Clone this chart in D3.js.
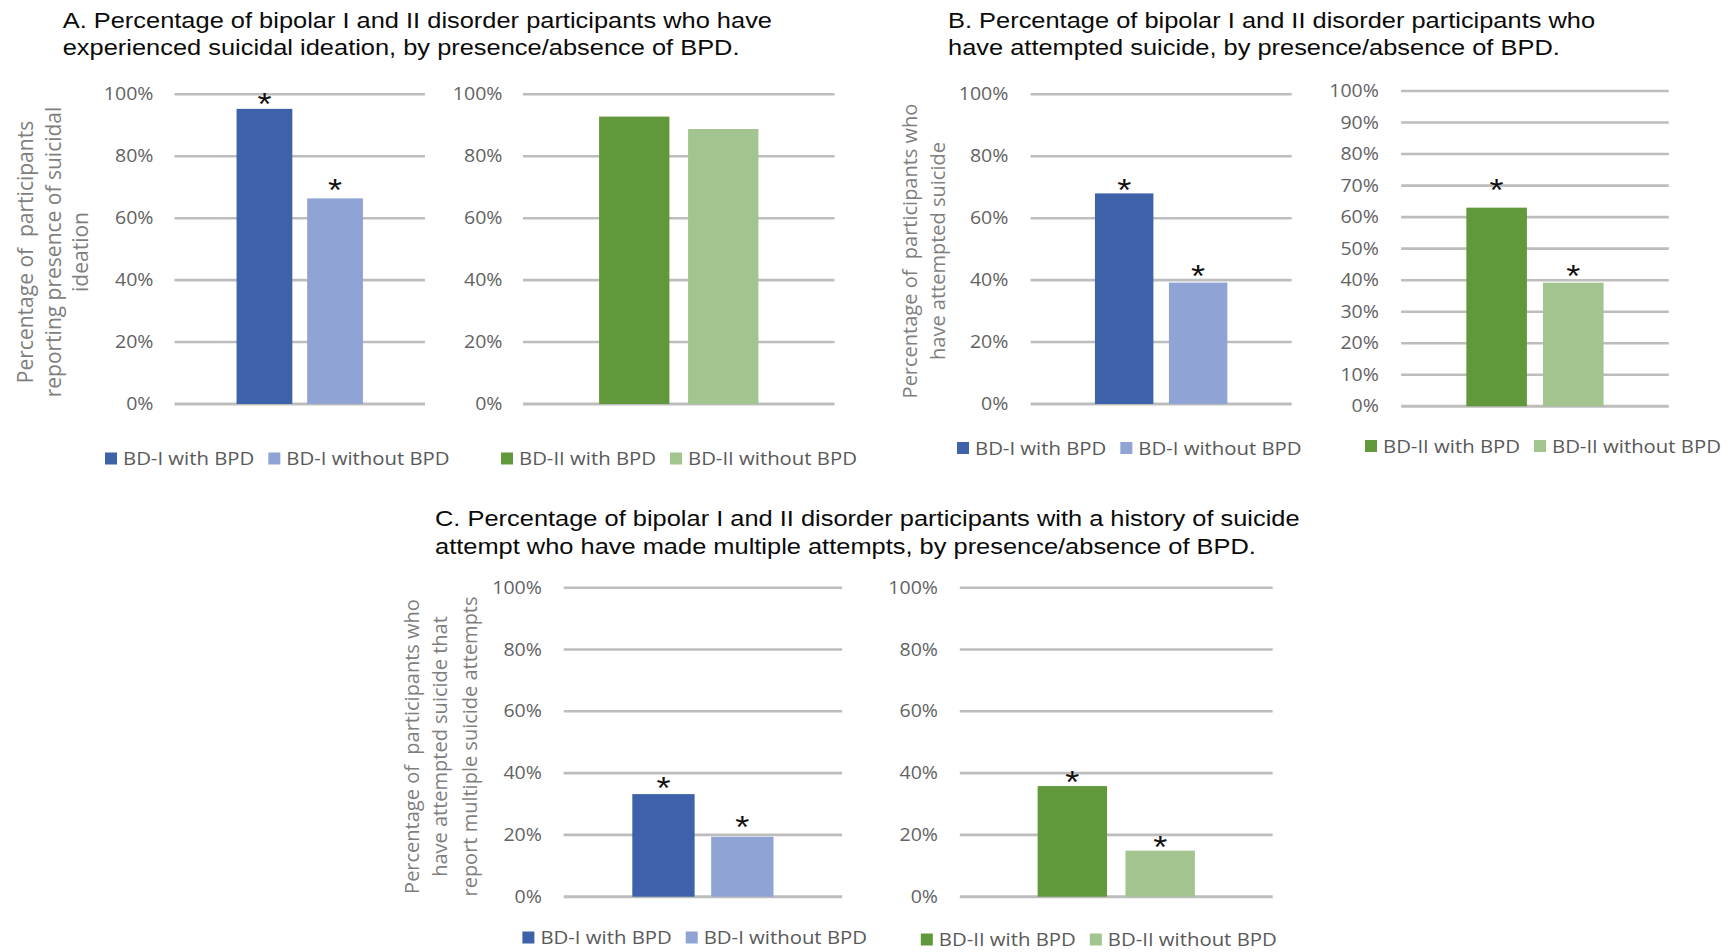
<!DOCTYPE html>
<html>
<head>
<meta charset="utf-8">
<script src="https://cdn.jsdelivr.net/npm/d3@7"></script>
<style>
  body { margin: 0; background: #ffffff; }
  svg { display: block; }
</style>
</head>
<body>
<script>
// ---- Data -------------------------------------------------------------
const seriesBD1 = ["BD-I with BPD", "BD-I without BPD"];
const seriesBD2 = ["BD-II with BPD", "BD-II without BPD"];

// A. suicidal ideation (%)
const ideationBD1 = [95.3, 66.4];
const ideationBD2 = [92.8, 88.8];
// B. attempted suicide (%)
const attemptBD1 = [68.0, 39.2];
const attemptBD2 = [63.0, 39.2];
// C. multiple attempts among attempters (%)
const multipleBD1 = [33.2, 19.4];
const multipleBD2 = [35.8, 14.9];

// significance markers per bar
const starsIdeationBD1 = [true, true];
const starsIdeationBD2 = [false, false];
const starsAttemptBD1 = [true, true];
const starsAttemptBD2 = [true, true];
const starsMultipleBD1 = [true, true];
const starsMultipleBD2 = [true, true];

const ticksBy20 = [0, 20, 40, 60, 80, 100];
const ticksBy10 = [0, 10, 20, 30, 40, 50, 60, 70, 80, 90, 100];

const titleA = ["A. Percentage of bipolar I and II disorder participants who have",
                "experienced suicidal ideation, by presence/absence of BPD."];
const titleB = ["B. Percentage of bipolar I and II disorder participants who",
                "have attempted suicide, by presence/absence of BPD."];
const titleC = ["C. Percentage of bipolar I and II disorder participants with a history of suicide",
                "attempt who have made multiple attempts, by presence/absence of BPD."];

const yTitleA = ["Percentage of  participants", "reporting presence of suicidal", "ideation"];
const yTitleB = ["Percentage of  participants who", "have attempted suicide"];
const yTitleC = ["Percentage of  participants who", "have attempted suicide that", "report multiple suicide attempts"];

// ---- Styling ----------------------------------------------------------
const colorsBD1 = ["#3D62AA", "#8FA3D4"];
const colorsBD2 = ["#62983C", "#A2C48E"];
const SX = 1.13;               // horizontal text stretch
const TICK_FONT = "'Open Sans', 'Noto Sans', sans-serif";
const TITLE_FONT = "'Liberation Sans', Arial, sans-serif";

const W = 1735, H = 952;
const svg = d3.select("body").append("svg")
  .attr("width", W).attr("height", H)
  .attr("viewBox", `0 0 ${W} ${H}`);

function stretchedText(parent, x, y, str, style) {
  const t = parent.append("text")
    .attr("transform", `translate(${x},${y}) scale(${SX},1)`)
    .attr("text-anchor", style.anchor || "start")
    .attr("font-family", style.family)
    .attr("font-size", style.size)
    .attr("fill", style.fill)
    .style("white-space", "pre")
    .text(str);
  return t;
}

function drawTitle(lines, x, y0, lineGap) {
  lines.forEach((ln, i) => {
    stretchedText(svg, x, y0 + i * lineGap, ln,
      { family: TITLE_FONT, size: 22.5, fill: "#0a0a0a" });
  });
}

function drawYTitle(lines, xs, cy, size) {
  lines.forEach((ln, i) => {
    svg.append("text")
      .attr("transform", `translate(${xs[i]},${cy}) rotate(-90)`)
      .attr("text-anchor", "middle")
      .attr("font-family", TICK_FONT)
      .attr("font-size", size)
      .attr("fill", "#7f7f7f")
      .style("white-space", "pre")
      .text(ln);
  });
}

function drawLegend(series, colors, x0, cy) {
  const g = svg.append("g");
  let x = x0;
  series.forEach((s, i) => {
    g.append("rect")
      .attr("x", x).attr("y", cy - 6)
      .attr("width", 12).attr("height", 12)
      .attr("fill", colors[i]);
    const t = stretchedText(g, x + 18, cy + 6.5, s,
      { family: TICK_FONT, size: 18, fill: "#595959" });
    x += 18 + t.node().getComputedTextLength() * SX + 14;
  });
}

function drawPanel(cfg) {
  const g = svg.append("g");
  const y = d3.scaleLinear().domain([0, 100]).range([cfg.yBottom, cfg.yTop]);
  const x = d3.scaleBand().domain(cfg.series)
    .range([cfg.x0, cfg.x1])
    .paddingInner(0.21).paddingOuter(cfg.outer);

  // horizontal gridlines
  g.append("g").selectAll("line")
    .data(cfg.ticks)
    .join("line")
    .attr("x1", cfg.x0).attr("x2", cfg.x1)
    .attr("y1", d => y(d)).attr("y2", d => y(d))
    .attr("stroke", "#bdbdbd")
    .attr("stroke-width", d => d === 0 ? 3 : 2.6);

  // value axis labels
  const axis = d3.axisLeft(y)
    .tickValues(cfg.ticks)
    .tickFormat(d => d + "%")
    .tickSize(0).tickPadding(0);
  const ag = g.append("g")
    .attr("transform", `translate(${cfg.labelRight},0)`)
    .call(axis)
    .attr("font-size", null).attr("font-family", null);
  ag.select(".domain").remove();
  ag.selectAll("text")
    .attr("transform", `scale(${SX},1)`)
    .attr("font-family", TICK_FONT)
    .attr("font-size", 17.3)
    .attr("fill", "#636363");

  const rows = cfg.values.map((v, i) => ({
    s: cfg.series[i], v, c: cfg.colors[i], star: cfg.stars[i], lift: cfg.lift[i]
  }));

  // bars
  g.append("g").selectAll("rect")
    .data(rows)
    .join("rect")
    .attr("x", d => x(d.s))
    .attr("width", x.bandwidth())
    .attr("y", d => y(d.v))
    .attr("height", d => y(0) - y(d.v))
    .attr("fill", d => d.c);

  // significance asterisks
  rows.filter(d => d.star).forEach(d => {
    stretchedText(g, x(d.s) + x.bandwidth() / 2, y(d.v) - d.lift + 18, "*",
      { family: TITLE_FONT, size: 32, fill: "#111", anchor: "middle" });
  });
}

// ---- Panel A: suicidal ideation --------------------------------------
drawTitle(titleA, 62.7, 27.5, 27);
drawYTitle(yTitleA, [33, 61, 88], 252, 21);
drawPanel({ series: seriesBD1, values: ideationBD1, colors: colorsBD1, stars: starsIdeationBD1,
  lift: [12, 15], ticks: ticksBy20, x0: 174.5, x1: 425, yTop: 94.3, yBottom: 404,
  outer: 0.879, labelRight: 153.5 });
drawPanel({ series: seriesBD2, values: ideationBD2, colors: colorsBD2, stars: starsIdeationBD2,
  lift: [0, 0], ticks: ticksBy20, x0: 523, x1: 834.5, yTop: 94.3, yBottom: 404,
  outer: 0.855, labelRight: 502.5 });
drawLegend(seriesBD1, colorsBD1, 105, 458.5);
drawLegend(seriesBD2, colorsBD2, 501, 458.5);

// ---- Panel B: attempted suicide --------------------------------------
drawTitle(titleB, 948, 27.5, 27);
drawYTitle(yTitleB, [917, 945], 251, 20);
drawPanel({ series: seriesBD1, values: attemptBD1, colors: colorsBD1, stars: starsAttemptBD1,
  lift: [10.6, 13.4], ticks: ticksBy20, x0: 1030.6, x1: 1291.7, yTop: 94.3, yBottom: 404,
  outer: 0.87, labelRight: 1008.4 });
drawPanel({ series: seriesBD2, values: attemptBD2, colors: colorsBD2, stars: starsAttemptBD2,
  lift: [25, 13.4], ticks: ticksBy10, x0: 1401.1, x1: 1668.8, yTop: 91, yBottom: 406.3,
  outer: 0.851, labelRight: 1378.9 });
drawLegend(seriesBD1, colorsBD1, 957, 448);
drawLegend(seriesBD2, colorsBD2, 1365, 446);

// ---- Panel C: multiple attempts --------------------------------------
drawTitle(titleC, 435, 526, 28);
drawYTitle(yTitleC, [418.7, 447.4, 476.7], 746.5, 20);
drawPanel({ series: seriesBD1, values: multipleBD1, colors: colorsBD1, stars: starsMultipleBD1,
  lift: [13, 16.7], ticks: ticksBy20, x0: 563.7, x1: 842.1, yTop: 587.7, yBottom: 896.7,
  outer: 0.87, labelRight: 541.9 });
drawPanel({ series: seriesBD2, values: multipleBD2, colors: colorsBD2, stars: starsMultipleBD2,
  lift: [11, 10.7], ticks: ticksBy20, x0: 959.8, x1: 1272.7, yTop: 587.7, yBottom: 896.7,
  outer: 0.886, labelRight: 938 });
drawLegend(seriesBD1, colorsBD1, 522.4, 937.5);
drawLegend(seriesBD2, colorsBD2, 920.8, 939.5);
</script>
</body>
</html>
